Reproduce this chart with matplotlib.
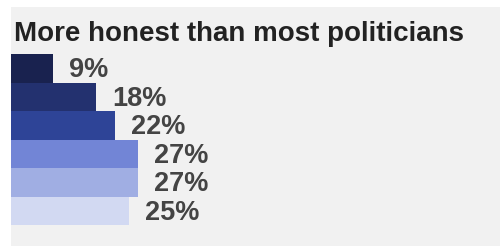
import matplotlib
matplotlib.use("Agg")
import matplotlib.pyplot as plt
from matplotlib.patches import Rectangle

title = "More honest than most politicians"
values = [9, 18, 22, 27, 27, 25]
labels = ["9%", "18%", "22%", "27%", "27%", "25%"]
colors = ["#19224f", "#23316f", "#2e4497", "#7285d6", "#a0aee3", "#d2d9f2"]

W, H = 500, 246
fig = plt.figure(figsize=(W / 100, H / 100), dpi=100)
fig.patch.set_facecolor("white")
fig.patches.append(Rectangle((11 / W, 0), 1 - 11 / W, (H - 7) / H,
                             transform=fig.transFigure, facecolor="#f1f1f1",
                             edgecolor="none", zorder=-1))

left, right = 10.5, 10.5 + 474
top, bottom = 54, 225
ax = fig.add_axes([left / W, 1 - bottom / H, (right - left) / W, (bottom - top) / H])
ax.set_zorder(2)
ax.set_facecolor("none")
ys = list(range(len(values)))
ax.barh(ys, values, height=1.0, color=colors, left=0)
ax.set_xlim(0, 100)
ax.set_ylim(len(values) - 0.5, -0.5)
ax.axis("off")
for y, v, lab in zip(ys, values, labels):
    ax.annotate(lab, (v, y), xytext=(16, -2), textcoords="offset pixels",
                va="center", ha="left", fontsize=19.5, fontweight="bold",
                color="#444444", family="Liberation Sans")

fig.text(14 / W, 1 - 41 / H, title, fontsize=20, fontweight="bold",
         color="#222222", family="Liberation Sans", ha="left", va="baseline",
         zorder=3)

fig.savefig("out.png", dpi=100)
